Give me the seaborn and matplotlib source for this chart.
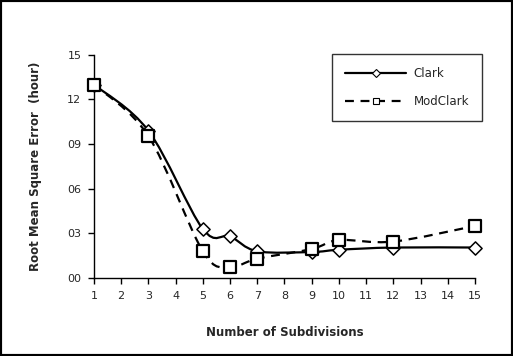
import numpy as np
import pandas as pd
import matplotlib
matplotlib.use('Agg')
import matplotlib.pyplot as plt
import seaborn as sns
from matplotlib.path import Path
from matplotlib.patches import PathPatch, Rectangle
from matplotlib.lines import Line2D
from matplotlib.ticker import FuncFormatter

# DADOS
subdivisoes = [1, 3, 5, 6, 7, 9, 10, 12, 15]
clark = [13.0, 9.9, 3.3, 2.8, 1.8, 1.75, 1.9, 2.05, 2.05]
modclark = [13.0, 9.55, 1.8, 0.75, 1.3, 1.95, 2.55, 2.45, 3.5]
xticks = list(range(1, 16))
yticks = [0, 3, 6, 9, 12, 15]

sns.set_style('white')
plt.rcParams['font.family'] = ['Verdana', 'DejaVu Sans']


def curva_suave(xs, ys):
    # linha suavizada estilo Excel (Bezier tipo Catmull-Rom)
    p = np.column_stack([xs, ys]).astype(float)
    n = len(p)
    verts = [p[0]]
    codes = [Path.MOVETO]
    for i in range(n - 1):
        p0 = p[i - 1] if i > 0 else p[i]
        p3 = p[i + 2] if i + 2 < n else p[i + 1]
        c1 = p[i] + (p[i + 1] - p0) / 6
        c2 = p[i + 1] - (p3 - p[i]) / 6
        verts += [c1, c2, p[i + 1]]
        codes += [Path.CURVE4] * 3
    return Path(verts, codes)


fig = plt.figure(figsize=(5.13, 3.56), dpi=100)
ax = fig.add_axes([0.183, 0.219, 0.743, 0.627])

ax.add_patch(PathPatch(curva_suave(subdivisoes, clark), fill=False,
                       edgecolor='black', lw=1.6))
ax.add_patch(PathPatch(curva_suave(subdivisoes, modclark), fill=False,
                       edgecolor='black', lw=1.6, linestyle=(0, (4, 3))))

df = pd.DataFrame({'x': subdivisoes, 'Clark': clark, 'ModClark': modclark})
sns.scatterplot(data=df, x='x', y='Clark', marker='D', s=45, color='white',
                edgecolor='black', linewidth=1.1, ax=ax, zorder=5, clip_on=False)
sns.scatterplot(data=df, x='x', y='ModClark', marker='s', s=85, color='white',
                edgecolor='black', linewidth=1.6, ax=ax, zorder=6, clip_on=False)

ax.set_xlim(1, 15)
ax.set_ylim(0, 15)
ax.set_xticks(xticks)
ax.set_yticks(yticks)
ax.yaxis.set_major_formatter(FuncFormatter(lambda v, p: '%02d' % v))
ax.tick_params(axis='both', direction='out', length=4, width=1, color='black',
               labelsize=8, left=True, bottom=True, pad=5)
for s in ['top', 'right']:
    ax.spines[s].set_visible(False)
for s in ['left', 'bottom']:
    ax.spines[s].set_color('black')
    ax.spines[s].set_linewidth(1)

ax.set_xlabel('Number of Subdivisions', fontsize=8.5, fontweight='bold', labelpad=18)
ax.set_ylabel('Root Mean Square Error  (hour)', fontsize=8.5, fontweight='bold', labelpad=18)

handles = [
    Line2D([], [], color='black', lw=1.6, marker='D', markersize=4,
           markerfacecolor='white', markeredgecolor='black', markeredgewidth=0.8),
    Line2D([], [], color='black', lw=1.6, linestyle=(0, (4, 3)), marker='s', markersize=5,
           markerfacecolor='white', markeredgecolor='black', markeredgewidth=0.8),
]
leg = ax.legend(handles, ['Clark', 'ModClark'], loc='upper right',
                bbox_to_anchor=(1.018, 1.004), borderaxespad=0, fontsize=8.5,
                frameon=True, fancybox=False, edgecolor='black', handlelength=5.2,
                borderpad=1.1, labelspacing=1.3, handletextpad=0.6)
leg.get_frame().set_linewidth(1)

fig.patches.append(Rectangle((0, 0), 1, 1, transform=fig.transFigure,
                             fill=False, edgecolor='black', lw=3))

fig.savefig('out.png', dpi=100)
